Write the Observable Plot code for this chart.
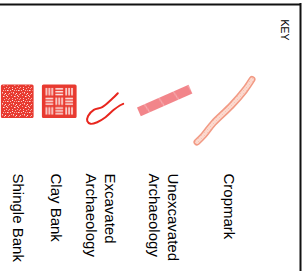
<!DOCTYPE html>
<html>
<head>
<meta charset="utf-8">
<script src="https://cdn.jsdelivr.net/npm/d3@7"></script>
<script src="https://cdn.jsdelivr.net/npm/@observablehq/plot@0.6"></script>
<style>
  html, body { margin: 0; padding: 0; background: #fff; }
  #chart svg { display: block; }
</style>
</head>
<body>
<div id="chart"></div>
<script>
// ---- data ----
const keyTitle = "KEY";
const categories = ["Shingle Bank", "Clay Bank", "Excavated Archaeology", "Unexcavated Archaeology", "Cropmark"];
const labelText = ["Shingle Bank", "Clay Bank", "Excavated\nArchaeology", "Unexcavated\nArchaeology", "Cropmark"];

// ---- layout (position along the rotated key) ----
const labelX = [19, 57, 101, 164, 230];
const labelStart = 173;
const squareX1 = [1.5, 42.5];
const squareX2 = [33, 76];
const squareY1 = 85, squareY2 = 117.5;
// symbol outlines (key units)
const excavatedPath = [[117.3, 92.7], [111.7, 98.3], [101.7, 106.7], [93.3, 109.3], [87.6, 115.5], [86.8, 120.7], [90, 123.3], [96.7, 121.7], [105, 116.7], [113.3, 109.3], [119.3, 105], [122.7, 103.3]];
const unexcavatedPath = [[138.4, 111.4], [190, 88.7]];
const cropmarkPath = [[251.5, 79], [244, 90], [231, 105], [213, 122.5], [203, 135], [196.5, 141.5]];

const red = "#e83a30";

const plot = Plot.plot({
  width: 302,
  height: 271,
  margin: 0,
  x: {type: "linear", domain: [0, 302], range: [0, 302], axis: null},
  y: {type: "linear", domain: [0, 271], range: [0, 271], axis: null},
  style: {background: "#fff", fontFamily: "'Liberation Sans', Arial, sans-serif", color: "#000"},
  marks: [
    // frame
    Plot.ruleY([4], {x1: 0, x2: 301, stroke: "#111", strokeWidth: 2}),
    Plot.ruleX([300], {y1: 3, y2: 271, stroke: "#111", strokeWidth: 2}),
    // Shingle Bank
    Plot.rect([categories[0]], {x1: squareX1[0], x2: squareX2[0], y1: squareY1, y2: squareY2, fill: "url(#stipple)", stroke: red, strokeWidth: 1.2, rx: 1}),
    // Clay Bank
    Plot.rect([categories[1]], {x1: squareX1[1], x2: squareX2[1], y1: squareY1, y2: squareY2, fill: "url(#weave)", stroke: red, strokeWidth: 1.2, rx: 1}),
    // Excavated Archaeology
    Plot.line(excavatedPath, {x: d => d[0], y: d => d[1], stroke: "#e8261e", strokeWidth: 2, curve: "catmull-rom", strokeLinejoin: "round", strokeLinecap: "round"}),
    // Unexcavated Archaeology
    Plot.line(unexcavatedPath, {x: d => d[0], y: d => d[1], stroke: "url(#unexc)", strokeWidth: 9.5, strokeLinecap: "butt"}),
    // Cropmark
    Plot.line(cropmarkPath, {x: d => d[0], y: d => d[1], stroke: "#f29a84", strokeWidth: 7, curve: "catmull-rom", strokeLinecap: "round", strokeLinejoin: "round"}),
    Plot.line(cropmarkPath, {x: d => d[0], y: d => d[1], stroke: "url(#hatch)", strokeWidth: 4, curve: "catmull-rom", strokeLinecap: "round", strokeLinejoin: "round"}),
    // labels
    Plot.text(categories, {x: (d, i) => labelX[i], y: labelStart, text: (d, i) => labelText[i], rotate: 90, textAnchor: "start", lineAnchor: "middle", fontSize: 15, lineHeight: 1.3, fill: "#000"}),
    Plot.text([keyTitle], {x: 284, y: 19, text: d => d, rotate: 90, textAnchor: "start", lineAnchor: "middle", fontSize: 10.5, fill: "#000"})
  ]
});

// patterns (styles)
const defs = d3.select(plot).insert("defs", ":first-child");
// stipple
const st = defs.append("pattern").attr("id", "stipple").attr("patternUnits", "userSpaceOnUse").attr("width", 11).attr("height", 11);
st.append("rect").attr("width", 11).attr("height", 11).attr("fill", red);
const dots = [[1,1,1,1,.9],[4,0,1,1,.6],[7,2,1.5,1,.85],[9,5,1,1,.7],[2,4,1,1.5,.8],[5,5,1,1,.9],[0,7,1,1,.6],[3,8,1.5,1,.85],[7,8,1,1,.75],[9,10,1,1,.6],[5,2,1,1,.5],[1,10,1,1,.7],[8,0,1,1,.5],[6,10,1,1,.6],[3,2,1,1,.6],[10,2,1,1,.7],[6,7,1,1,.8],[0,4,1,1,.5],[4,6,1,1,.6],[8,6,1,1,.5]];
dots.forEach(([x, y, w, h, o]) => st.append("rect").attr("x", x).attr("y", y).attr("width", w).attr("height", h).attr("fill", "#fff").attr("opacity", o));
// weave (basket weave, 3x3 blocks inside the square)
const wv = defs.append("pattern").attr("id", "weave").attr("patternUnits", "objectBoundingBox").attr("patternContentUnits", "objectBoundingBox").attr("width", 1).attr("height", 1);
wv.append("rect").attr("width", 1).attr("height", 1).attr("fill", red);
for (let r = 0; r < 3; r++) for (let c = 0; c < 3; c++) {
  const vertical = (r + c) % 2 === 0;
  const bx = 0.06 + c * 0.295, by = 0.06 + r * 0.295, bs = 0.29;
  for (let k = 0; k < 3; k++) {
    const off = bs * (0.2 + k * 0.3);
    if (vertical) wv.append("rect").attr("x", bx + off - 0.022).attr("y", by + 0.03).attr("width", 0.044).attr("height", bs - 0.06).attr("fill", "#fff").attr("opacity", 0.92);
    else wv.append("rect").attr("x", bx + 0.03).attr("y", by + off - 0.022).attr("width", bs - 0.06).attr("height", 0.044).attr("fill", "#fff").attr("opacity", 0.92);
  }
}
// unexcavated fill
const ux = defs.append("pattern").attr("id", "unexc").attr("patternUnits", "userSpaceOnUse").attr("width", 16).attr("height", 16).attr("patternTransform", "rotate(-20)");
ux.append("rect").attr("width", 16).attr("height", 16).attr("fill", "#f2858a");
ux.append("line").attr("x1", 3).attr("y1", 0).attr("x2", 7).attr("y2", 16).attr("stroke", "#fff").attr("stroke-width", 0.6).attr("opacity", 0.6);
// cropmark hatch
const hx = defs.append("pattern").attr("id", "hatch").attr("patternUnits", "userSpaceOnUse").attr("width", 3).attr("height", 3);
hx.append("rect").attr("width", 3).attr("height", 3).attr("fill", "#fff3ee");
hx.append("path").attr("d", "M0,0L3,3M3,0L0,3").attr("stroke", "#f29a84").attr("stroke-width", 0.55);

document.getElementById("chart").append(plot);
</script>
</body>
</html>
